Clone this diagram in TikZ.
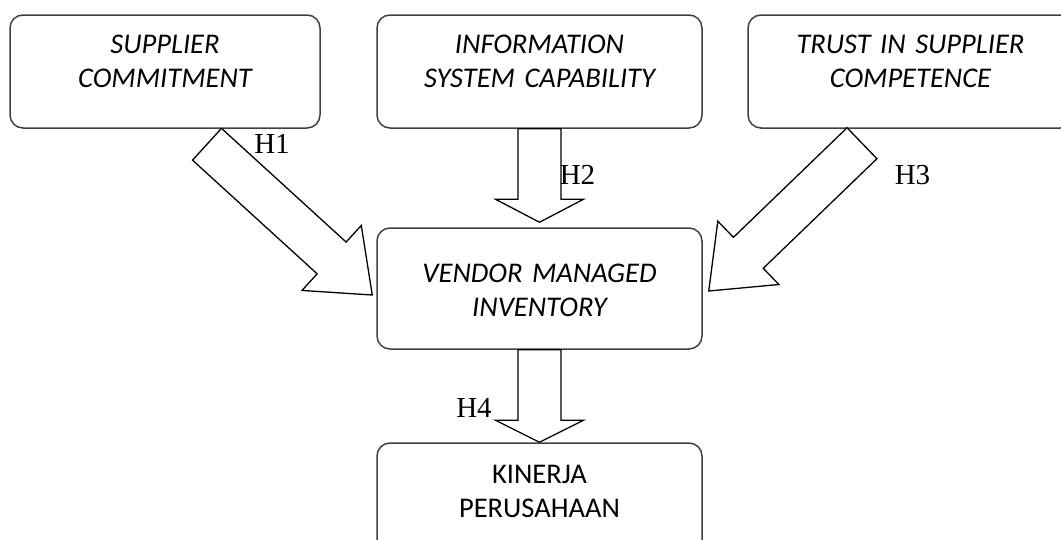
\documentclass[tikz,border=0pt]{standalone}
\usepackage{fontspec}
\setmainfont{Liberation Serif}
\newfontfamily\calibri{Carlito}
\usetikzlibrary{calc}

\tikzset{
  var/.style={draw=black!75, line width=1.5pt, rounded corners=13pt, inner sep=0pt,
    text width=#1, align=center, font=\calibri\itshape\fontsize{28.5}{34.5}\selectfont},
  fat/.style={draw=black, line width=1.3pt, line join=miter},
  hyp/.style={anchor=base, inner sep=0pt, font=\fontsize{29}{34}\selectfont}
}

% block arrow: tail, tip, head length
\newcommand{\fatarrow}[3]{%
  \draw[fat] ($(#1)!21.5pt!90:(#2)$)
    -- ($(#2)!#3!(#1)!21.5pt!-90:(#1)$)
    -- ($(#2)!#3!(#1)!44pt!-90:(#1)$)
    -- (#2)
    -- ($(#2)!#3!(#1)!44pt!90:(#1)$)
    -- ($(#2)!#3!(#1)!21.5pt!90:(#1)$)
    -- ($(#1)!21.5pt!-90:(#2)$) -- cycle;}

\begin{document}
\begin{tikzpicture}[x=1pt, y=-1pt]
  \useasboundingbox (0,0) rectangle (1061,539);
  \clip (0,0) rectangle (1061,539);

  % variables
  \node[var=310pt, text height=38pt, text depth=75pt] (sc) at (165,71.5) {SUPPLIER\\COMMITMENT};
  \node[var=325pt, text height=38pt, text depth=75pt] (ic) at (539.5,71.5) {INFORMATION\\SYSTEM CAPABILITY};
  \node[var=325pt, text height=38pt, text depth=75pt] (tc) at (910.5,71.5) {TRUST IN SUPPLIER\\COMPETENCE};
  \node[var=325pt, text height=54pt, text depth=67pt] (vmi) at (539.5,288.5) {VENDOR MANAGED\\INVENTORY};
  \node[var=325pt, text height=40pt, text depth=73pt, font=\calibri\fontsize{28.5}{34.5}\selectfont] (kp) at (539.5,499.5) {KINERJA\\PERUSAHAAN};

  % arrow ends
  \coordinate (t1) at ([shift={(42,15.5)}]sc.south);
  \coordinate (e1) at ([shift={(-4,6.5)}]vmi.west);
  \coordinate (t3) at ([shift={(-48.5,14.5)}]tc.south);
  \coordinate (e3) at ([shift={(6,2.5)}]vmi.east);
  \coordinate (e2) at ([shift={(0,-5)}]vmi.north);

  \fatarrow{t1}{e1}{55pt}
  \fatarrow{ic.south}{e2}{23pt}
  \fatarrow{t3}{e3}{55pt}
  \fatarrow{vmi.south}{kp.north}{22pt}

  % hypotheses
  \node[hyp] (h1) at (272,153) {H1};
  \node[hyp] (h2) at (577.5,184) {H2};
  \node[hyp] (h3) at (912.5,184) {H3};
  \node[hyp] (h4) at (474,417) {H4};
\end{tikzpicture}
\end{document}
